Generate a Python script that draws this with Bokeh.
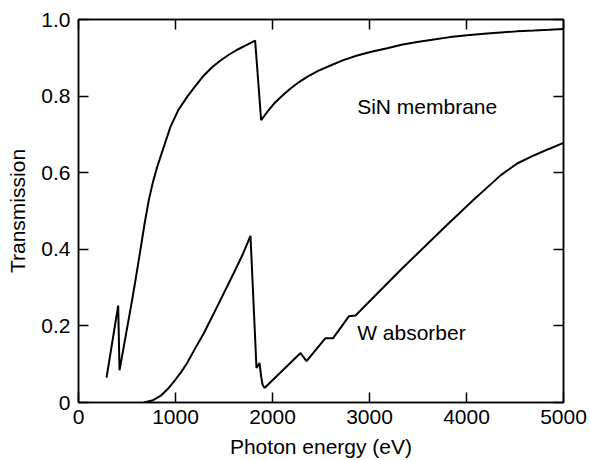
from bokeh.plotting import figure
from bokeh.models import (LinearAxis, FixedTicker, Range1d, CustomJSTickFormatter,
                          CustomLabelingPolicy)
from bokeh.core.properties import value
from bokeh.embed import file_html
from bokeh.resources import INLINE

# SiN membrane transmission (photon energy in eV)
sin_energy = [289, 409, 423, 553, 588, 639, 682, 725, 768, 811, 845, 900, 948, 1030,
              1120, 1186, 1292, 1380, 1464, 1550, 1636, 1730, 1821, 1883, 1950,
              2014, 2100, 2186, 2270, 2357, 2470, 2598, 2730, 2873, 3020, 3182,
              3330, 3491, 3663, 3830, 4007, 4180, 4351, 4520, 4694, 4850, 5000]
sin_trans = [0.065, 0.253, 0.084, 0.268, 0.320, 0.40, 0.468, 0.529, 0.576, 0.615,
             0.641, 0.683, 0.72, 0.764, 0.798, 0.82, 0.854, 0.876, 0.893, 0.908,
             0.921, 0.933, 0.945, 0.737, 0.760, 0.780, 0.801, 0.82, 0.836, 0.85,
             0.866, 0.880, 0.894, 0.906, 0.916, 0.925, 0.934, 0.941, 0.948, 0.954,
             0.959, 0.963, 0.966, 0.969, 0.971, 0.973, 0.975]

# W absorber transmission
w_energy = [673, 760, 845, 920, 1000, 1060, 1120, 1200, 1292, 1380, 1464, 1601,
            1690, 1773, 1835, 1866, 1883, 1897, 1918, 2289, 2351, 2546, 2625,
            2787, 2856, 3320, 3801, 4076, 4220, 4351, 4522, 4694, 4850, 5000]
w_trans = [0.0, 0.005, 0.017, 0.035, 0.06, 0.08, 0.103, 0.14, 0.181, 0.225, 0.268,
           0.338, 0.385, 0.435, 0.090, 0.103, 0.068, 0.047, 0.038, 0.129, 0.108,
           0.168, 0.168, 0.225, 0.227, 0.346, 0.464, 0.530, 0.563, 0.593, 0.624,
           0.645, 0.662, 0.678]

x_ticks = [0, 1000, 2000, 3000, 4000, 5000]
y_ticks = [0, 0.2, 0.4, 0.6, 0.8, 1.0]

labels = ["SiN membrane", "W absorber"]
label_x = [2873, 2873]
label_y = [0.773, 0.183]

FONT = "Liberation Sans"
FS = "21px"

p = figure(width=590, height=460, output_backend="svg", toolbar_location=None,
           x_range=Range1d(0, 5000), y_range=Range1d(0, 1.0),
           min_border_left=78, min_border_right=27, min_border_top=19,
           min_border_bottom=57, x_axis_label="Photon energy (eV)",
           y_axis_label="Transmission")

p.xgrid.visible = False
p.ygrid.visible = False
p.outline_line_color = "black"
p.outline_line_width = 1.5
p.background_fill_color = "white"
p.border_fill_color = "white"

for ax in (p.xaxis[0], p.yaxis[0]):
    ax.axis_line_width = 1.5
    ax.major_tick_line_width = 1.5
    ax.major_tick_in = 10
    ax.major_tick_out = 0
    ax.minor_tick_in = 0
    ax.minor_tick_out = 0
    ax.major_label_text_font = FONT
    ax.major_label_text_font_size = FS
    ax.major_label_text_color = "black"
    ax.axis_label_text_font = FONT
    ax.axis_label_text_font_size = FS
    ax.axis_label_text_font_style = "normal"
    ax.axis_label_text_color = "black"

p.xaxis[0].ticker = FixedTicker(ticks=x_ticks)
p.yaxis[0].ticker = FixedTicker(ticks=y_ticks)
p.yaxis[0].formatter = CustomJSTickFormatter(
    code="return tick == 0 ? '0' : tick.toFixed(1);")
p.xaxis[0].major_label_standoff = 7
p.xaxis[0].axis_label_standoff = 8
p.yaxis[0].major_label_standoff = 8
p.yaxis[0].axis_label_standoff = 9

no_labels = CustomLabelingPolicy(
    code="for (const i of indices) { indices.unset(i) } return indices;")

for loc, ticks in (("above", x_ticks), ("right", y_ticks)):
    ax = LinearAxis(ticker=FixedTicker(ticks=ticks), major_label_text_font_size="0px",
                    major_label_standoff=0, major_tick_in=10, major_tick_out=0,
                    minor_tick_in=0, minor_tick_out=0, axis_line_width=1.5,
                    major_tick_line_width=1.5, major_label_policy=no_labels)
    p.add_layout(ax, loc)

p.line(sin_energy, sin_trans, line_color="black", line_width=2)
p.line(w_energy, w_trans, line_color="black", line_width=2)

p.text(x=label_x, y=label_y, text=labels, text_font=value(FONT),
       text_font_size=FS, text_align="left", text_baseline="middle",
       text_color="black")

open("out.html", "w").write(file_html(p, INLINE))
